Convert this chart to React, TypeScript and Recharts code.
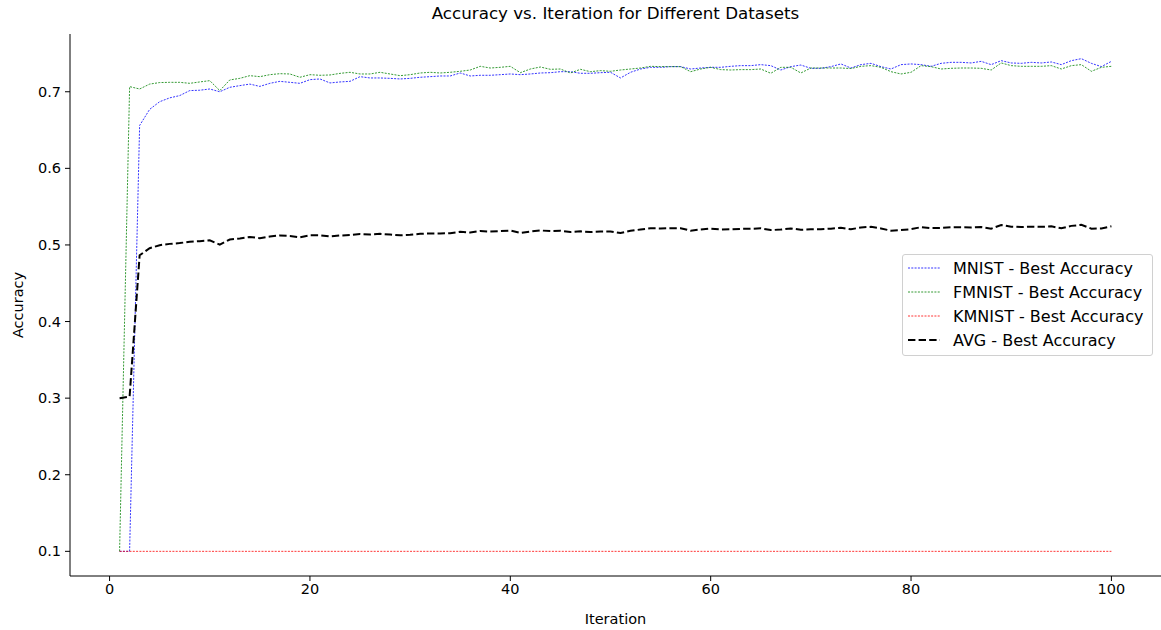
import React from "react";
import { LineChart, Line, XAxis, YAxis, Legend } from "recharts";

const iterations: number[] = Array.from({ length: 100 }, (_, i) => i + 1);

const mnist: number[] = [
  0.1, 0.1, 0.656, 0.677, 0.687, 0.692, 0.695, 0.7015, 0.702, 0.7036,
  0.7, 0.7058, 0.708, 0.71, 0.707, 0.711, 0.7136, 0.7123, 0.711, 0.7158,
  0.7167, 0.7115, 0.7128, 0.7136, 0.7197, 0.718, 0.718, 0.7175, 0.7167, 0.7175,
  0.7189, 0.7197, 0.7206, 0.7206, 0.7245, 0.7206, 0.7215, 0.7215, 0.7223, 0.7232,
  0.7223, 0.7232, 0.7245, 0.7249, 0.7262, 0.7262, 0.7241, 0.7241, 0.7249, 0.7254,
  0.718, 0.7254, 0.7297, 0.7319, 0.7319, 0.7328, 0.7328, 0.7297, 0.731, 0.7319,
  0.7319, 0.7332, 0.7341, 0.7341, 0.7354, 0.7341, 0.7284, 0.7328, 0.7349, 0.7306,
  0.7306, 0.7328, 0.7363, 0.731, 0.7354, 0.7371, 0.7328, 0.7297, 0.7354, 0.7363,
  0.7354, 0.7332, 0.7371, 0.7384, 0.7384, 0.7376, 0.7397, 0.7354, 0.7406, 0.7376,
  0.7371, 0.7384, 0.7376, 0.7389, 0.7354, 0.7406, 0.7432, 0.7371, 0.7328, 0.7397,
];

const fmnist: number[] = [
  0.1, 0.7067, 0.7036, 0.71, 0.712, 0.7123, 0.7123, 0.711, 0.7128, 0.7145,
  0.7015, 0.7154, 0.7175, 0.721, 0.7197, 0.7223, 0.7236, 0.7232, 0.7189, 0.7223,
  0.7215, 0.7219, 0.724, 0.7254, 0.7232, 0.7232, 0.7254, 0.7232, 0.721, 0.7223,
  0.7245, 0.7254, 0.7245, 0.7254, 0.7267, 0.7284, 0.7332, 0.731, 0.7319, 0.7332,
  0.7249, 0.7297, 0.7323, 0.7293, 0.7297, 0.7245, 0.7293, 0.7262, 0.7276, 0.7267,
  0.7284, 0.7297, 0.731, 0.7332, 0.7328, 0.7328, 0.7328, 0.7262, 0.7297, 0.7319,
  0.7289, 0.7284, 0.7289, 0.7289, 0.7297, 0.7241, 0.7319, 0.7319, 0.7245, 0.731,
  0.731, 0.731, 0.731, 0.7303, 0.7332, 0.7341, 0.7319, 0.7262, 0.7232, 0.7254,
  0.7341, 0.7328, 0.7297, 0.7306, 0.731, 0.731, 0.7306, 0.7284, 0.7376, 0.7341,
  0.7332, 0.7332, 0.7332, 0.7341, 0.7297, 0.7341, 0.7354, 0.7267, 0.7319, 0.7332,
];

const kmnist: number[] = Array.from({ length: 100 }, () => 0.1);

const avg: number[] = [
  0.3, 0.302, 0.4865, 0.4957, 0.4997, 0.5014, 0.5024, 0.5042, 0.5049, 0.506,
  0.5005, 0.5071, 0.5085, 0.5103, 0.5089, 0.5111, 0.5124, 0.5118, 0.51, 0.5127,
  0.5127, 0.5111, 0.5123, 0.513, 0.5143, 0.5137, 0.5145, 0.5136, 0.5126, 0.5133,
  0.5145, 0.515, 0.515, 0.5153, 0.5171, 0.5163, 0.5182, 0.5175, 0.5181, 0.5188,
  0.5157, 0.5176, 0.5189, 0.5181, 0.5186, 0.5169, 0.5178, 0.5168, 0.5175, 0.5174,
  0.5155, 0.5184, 0.5202, 0.5217, 0.5216, 0.5219, 0.5219, 0.5186, 0.5202, 0.5213,
  0.5203, 0.5205, 0.521, 0.521, 0.5217, 0.5194, 0.5201, 0.5216, 0.5198, 0.5205,
  0.5205, 0.5213, 0.5224, 0.5204, 0.5229, 0.5237, 0.5216, 0.5186, 0.5195, 0.5206,
  0.5232, 0.522, 0.5223, 0.523, 0.5231, 0.5229, 0.5234, 0.5213, 0.5261, 0.5239,
  0.5234, 0.5239, 0.5236, 0.5243, 0.5217, 0.5249, 0.5262, 0.5213, 0.5216, 0.5243,
];

const xTicks: number[] = [0, 20, 40, 60, 80, 100];
const yTicks: number[] = [0.1, 0.2, 0.3, 0.4, 0.5, 0.6, 0.7];

const data = iterations.map((it, i) => ({
  it,
  mnist: mnist[i],
  fmnist: fmnist[i],
  kmnist: kmnist[i],
  avg: avg[i],
}));

const FONT = "'DejaVu Sans', sans-serif";
const TICK_FS = 14.5;

const legendItems = [
  { label: "MNIST - Best Accuracy", color: "blue", width: 0.8, dash: "2 1.3" },
  { label: "FMNIST - Best Accuracy", color: "green", width: 0.8, dash: "2 1.3" },
  { label: "KMNIST - Best Accuracy", color: "red", width: 0.8, dash: "2 1.3" },
  { label: "AVG - Best Accuracy", color: "black", width: 2, dash: "7.4 3.2" },
];

const renderLegend = () => (
  <div
    style={{
      width: 251,
      height: 102,
      border: "1px solid #d0d0d0",
      borderRadius: 3,
      background: "rgba(255,255,255,0.8)",
      boxSizing: "border-box",
      paddingTop: 1,
      fontFamily: FONT,
      fontSize: 16,
      color: "#000",
    }}
  >
    {legendItems.map((it) => (
      <div key={it.label} style={{ display: "flex", alignItems: "center", height: 24 }}>
        <svg width={50} height={10} style={{ display: "block", flex: "none" }}>
          <line x1={5} x2={37} y1={5} y2={5} stroke={it.color} strokeWidth={it.width} strokeDasharray={it.dash} />
        </svg>
        <span style={{ whiteSpace: "nowrap" }}>{it.label}</span>
      </div>
    ))}
  </div>
);

export default function App() {
  return (
    <div style={{ position: "absolute", left: 0, top: 0, width: 1161, height: 630, background: "#fff" }}>
      <div
        style={{
          position: "absolute",
          left: 70,
          width: 1091,
          top: 3,
          textAlign: "center",
          fontFamily: FONT,
          fontSize: 16.7,
          color: "#000",
        }}
      >
        Accuracy vs. Iteration for Different Datasets
      </div>
      <LineChart
        width={1161}
        height={630}
        data={data}
        margin={{ top: 34, right: 0, bottom: 0, left: 0 }}
        style={{ position: "absolute", left: 0, top: 0 }}
      >
        <XAxis
          dataKey="it"
          type="number"
          domain={[-3.95, 104.95]}
          ticks={xTicks}
          allowDataOverflow
          height={54}
          tickSize={5}
          tickMargin={3}
          stroke="#000"
          axisLine={{ stroke: "#000", strokeWidth: 1 }}
          tickLine={{ stroke: "#000" }}
          tick={{ fill: "#000", fontFamily: FONT, fontSize: TICK_FS }}
          label={{ value: "Iteration", position: "insideBottom", offset: 6, fill: "#000", fontFamily: FONT, fontSize: TICK_FS }}
        />
        <XAxis
          xAxisId="top"
          dataKey="it"
          type="number"
          orientation="top"
          domain={[-3.95, 104.95]}
          height={0}
          tick={false}
          tickLine={false}
          axisLine={{ stroke: "#000", strokeWidth: 1 }}
        />
        <YAxis
          type="number"
          domain={[0.0678, 0.7754]}
          ticks={yTicks}
          allowDataOverflow
          width={70}
          tickSize={5}
          tickMargin={4}
          tickFormatter={(v: number) => v.toFixed(1)}
          axisLine={{ stroke: "#000", strokeWidth: 1 }}
          tickLine={{ stroke: "#000" }}
          tick={{ fill: "#000", fontFamily: FONT, fontSize: TICK_FS }}
          label={{ value: "Accuracy", angle: -90, position: "insideLeft", offset: 18, fill: "#000", fontFamily: FONT, fontSize: TICK_FS, style: { textAnchor: "middle" } }}
        />
        <Legend
          content={renderLegend}
          layout="horizontal"
          verticalAlign="middle"
          align="center"
          wrapperStyle={{ position: "absolute", left: 902, top: 254, width: 251, height: 102 }}
        />
        <Line dataKey="mnist" name="MNIST - Best Accuracy" stroke="blue" strokeWidth={0.8} strokeDasharray="2 1.3" dot={false} isAnimationActive={false} />
        <Line dataKey="fmnist" name="FMNIST - Best Accuracy" stroke="green" strokeWidth={0.8} strokeDasharray="2 1.3" dot={false} isAnimationActive={false} />
        <Line dataKey="kmnist" name="KMNIST - Best Accuracy" stroke="red" strokeWidth={0.8} strokeDasharray="2 1.3" dot={false} isAnimationActive={false} />
        <Line dataKey="avg" name="AVG - Best Accuracy" stroke="black" strokeWidth={2} strokeDasharray="7.4 3.2" dot={false} isAnimationActive={false} />
      </LineChart>
    </div>
  );
}
